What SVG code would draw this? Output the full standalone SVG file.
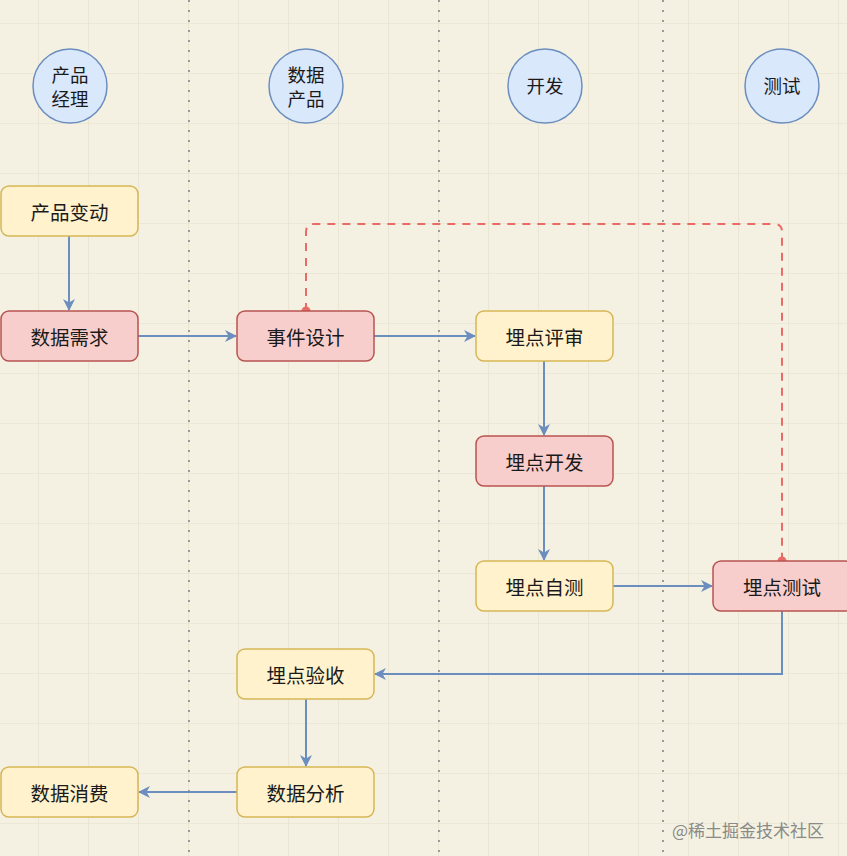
<svg xmlns="http://www.w3.org/2000/svg" width="847" height="856" viewBox="0 0 847 856">
<defs>
<pattern id="grid" x="38" y="23" width="50" height="50" patternUnits="userSpaceOnUse">
<path d="M0 0H50M0 0V50" fill="none" stroke="#e4e0cc" stroke-width="1.2"/>
</pattern>
<marker id="arr" viewBox="0 0 12 12" refX="11" refY="6" markerWidth="12" markerHeight="12" markerUnits="userSpaceOnUse" orient="auto">
<path d="M0 0L12 6L0 12L3.5 6Z" fill="#6c8ebf"/>
</marker>
</defs>
<style>
.lane{stroke:#9a9a9a;stroke-width:2;stroke-dasharray:2 8;fill:none}
.head circle{fill:#dae8fc;stroke:#6c8ebf;stroke-width:1.5}
.head text{font-size:18.5px}
.y rect{fill:#fff2cc;stroke:#d6b656;stroke-width:1.5}
.r rect{fill:#f8cecc;stroke:#b85450;stroke-width:1.5}
text{font-family:"Noto Sans CJK SC","Noto Sans",sans-serif;font-size:19.5px;fill:#1a1a1a;text-anchor:middle;dominant-baseline:central}
.c{fill:none;stroke:#6c8ebf;stroke-width:2;marker-end:url(#arr)}
.d{fill:none;stroke:#ea6b66;stroke-width:2;stroke-dasharray:8 7}
</style>
<rect width="847" height="856" fill="#f4f1e2"/>
<rect width="847" height="856" fill="url(#grid)"/>
<g id="lanes">
<line class="lane" x1="189" y1="0" x2="189" y2="856"/>
<line class="lane" x1="439" y1="0" x2="439" y2="856"/>
<line class="lane" x1="663" y1="0" x2="663" y2="856"/>
</g>
<g id="h-pm" class="head"><circle cx="70" cy="86" r="37"/><text x="70" y="74">产品</text><text x="70" y="98">经理</text></g>
<g id="h-dp" class="head"><circle cx="306" cy="86" r="37"/><text x="306" y="74">数据</text><text x="306" y="98">产品</text></g>
<g id="h-dev" class="head"><circle cx="545" cy="86" r="37"/><text x="545" y="85">开发</text></g>
<g id="h-qa" class="head"><circle cx="782" cy="86" r="37"/><text x="782" y="85">测试</text></g>
<g id="connectors">
<path class="c" d="M69 236V310"/>
<path class="c" d="M138 336H236"/>
<path class="c" d="M374 336H475"/>
<path class="c" d="M544 361V435"/>
<path class="c" d="M544 486V560"/>
<path class="c" d="M613 586H712"/>
<path class="c" d="M782 611V674H375"/>
<path class="c" d="M306 699V766"/>
<path class="c" d="M237 792H139"/>
<path class="d" d="M306 311V232Q306 224 314 224H774Q782 224 782 232V561"/>
<circle cx="306" cy="311" r="4.5" fill="#ea6b66"/>
<circle cx="782" cy="561" r="4.5" fill="#ea6b66"/>
</g>
<g id="n1" class="y"><rect x="1" y="186" width="137" height="50" rx="8"/><text x="69.5" y="211">产品变动</text></g>
<g id="n2" class="r"><rect x="1" y="311" width="137" height="50" rx="8"/><text x="69.5" y="336">数据需求</text></g>
<g id="n3" class="r"><rect x="237" y="311" width="137" height="50" rx="8"/><text x="305.5" y="336">事件设计</text></g>
<g id="n4" class="y"><rect x="476" y="311" width="137" height="50" rx="8"/><text x="544.5" y="336">埋点评审</text></g>
<g id="n5" class="r"><rect x="476" y="436" width="137" height="50" rx="8"/><text x="544.5" y="461">埋点开发</text></g>
<g id="n6" class="y"><rect x="476" y="561" width="137" height="50" rx="8"/><text x="544.5" y="586">埋点自测</text></g>
<g id="n7" class="r"><rect x="713" y="561" width="140" height="50" rx="8"/><text x="782" y="586">埋点测试</text></g>
<g id="n8" class="y"><rect x="237" y="649" width="137" height="50" rx="8"/><text x="305.5" y="674">埋点验收</text></g>
<g id="n9" class="y"><rect x="237" y="767" width="137" height="50" rx="8"/><text x="305.5" y="792">数据分析</text></g>
<g id="n10" class="y"><rect x="1" y="767" width="137" height="50" rx="8"/><text x="69.5" y="792">数据消费</text></g>
<text x="748" y="829" style="font-size:17px;fill:#8a8a86">@稀土掘金技术社区</text>
</svg>
